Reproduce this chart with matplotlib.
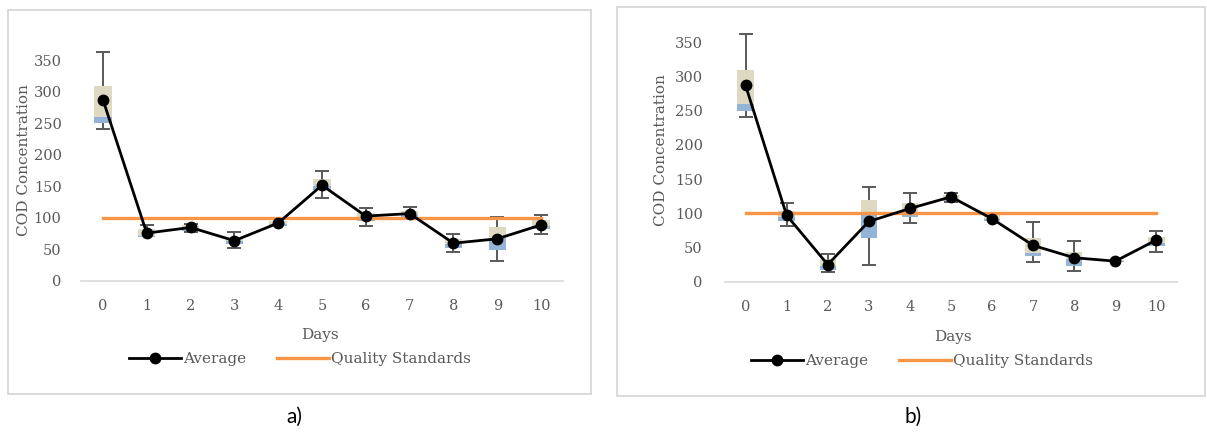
import numpy as np
import matplotlib.pyplot as plt
from matplotlib.patches import Rectangle
from matplotlib.lines import Line2D

days = list(range(11))
quality_standard = 100
y_ticks = [0, 50, 100, 150, 200, 250, 300, 350]

# panel a) box statistics
a_min = [242, 70, 77, 52, 88, 132, 88, 102, 46, 31, 75]
a_q1 = [251, 70, 79, 58, 88, 145, 96, 102, 53, 49, 82]
a_med = [260, 72, 84, 63, 90, 151, 102, 105, 59, 68, 88]
a_q3 = [310, 82, 89, 68, 96, 162, 108, 111, 67, 85, 97]
a_max = [363, 89, 91, 77, 96, 174, 116, 117, 74, 102, 105]
a_avg = [288, 76, 85, 64, 92, 152, 103, 107, 60, 67, 89]

# panel b) box statistics
b_min = [241, 81, 14, 25, 86, 116, 88, 29, 16, 29, 44]
b_q1 = [250, 88, 17, 64, 94, 118, 88, 37, 23, 29, 52]
b_med = [259, 95, 23, 98, 100, 121, 92, 42, 33, 30, 57]
b_q3 = [310, 104, 33, 120, 115, 126, 98, 64, 44, 31, 66]
b_max = [362, 115, 41, 139, 130, 130, 98, 87, 59, 31, 74]
b_avg = [287, 97, 25, 88, 107, 124, 92, 53, 35, 30, 61]

W, H = 1207, 432
GREY = '#595959'


def fx(px):
    return px / W


def fy(py):
    return 1 - py / H


def draw_panel(ax, lo, q1, med, q3, hi, avg):
    x = np.array(days)
    lo, q1, med, q3, hi = map(np.array, (lo, q1, med, q3, hi))
    ax.bar(x, med - q1, bottom=q1, width=0.4, color='#95b3d7', zorder=2)
    ax.bar(x, q3 - med, bottom=med, width=0.4, color='#ddd9c3', zorder=2)
    ax.vlines(x, q3, hi, color=GREY, lw=1.4, zorder=3)
    ax.vlines(x, lo, q1, color=GREY, lw=1.4, zorder=3)
    up = hi > q3
    dn = lo < q1
    ax.plot(x[up], hi[up], ls='none', marker='_', ms=10, mew=1.4, color=GREY, zorder=3)
    ax.plot(x[dn], lo[dn], ls='none', marker='_', ms=10, mew=1.4, color=GREY, zorder=3)
    ax.plot(x, [quality_standard] * len(x), color='#f79646', lw=2.4, zorder=4)
    ax.plot(x, avg, color='black', lw=2, marker='o', ms=7.5, zorder=5)

    ax.set_xlim(-0.5, 10.5)
    ax.set_ylim(0, 400)
    ax.set_xticks(days)
    ax.set_yticks(y_ticks)
    for s in ['top', 'left', 'right']:
        ax.spines[s].set_visible(False)
    ax.spines['bottom'].set_color('#d9d9d9')
    ax.spines['bottom'].set_linewidth(1.2)
    ax.tick_params(length=0, colors=GREY, labelsize=10.5)
    ax.tick_params(axis='x', pad=13)
    ax.patch.set_alpha(0)


plt.rcParams['font.family'] = ['DejaVu Serif']
fig = plt.figure(figsize=(W / 100, H / 100), dpi=100)

# chart frames
for x0, y0, x1, y1 in [(8, 10, 591, 394), (617, 7, 1205, 396)]:
    fig.add_artist(Rectangle((fx(x0), fy(y1)), fx(x1 - x0), (y1 - y0) / H,
                             transform=fig.transFigure, fill=False,
                             ec='#d4d4d4', lw=1.2))

ax1 = fig.add_axes([fx(81), fy(281), fx(563 - 81), (281 - 29) / H])
draw_panel(ax1, a_min, a_q1, a_med, a_q3, a_max, a_avg)
ax1.tick_params(axis='y', pad=14)

ax2 = fig.add_axes([fx(725), fy(281.7), fx(1177 - 725), (281.7 - 8) / H])
draw_panel(ax2, b_min, b_q1, b_med, b_q3, b_max, b_avg)
ax2.tick_params(axis='y', pad=16)

# axis titles
fig.text(fx(24.5), fy(160), 'COD Concentration', rotation=90, ha='center',
         va='center', fontsize=11, color=GREY)
fig.text(fx(661), fy(150), 'COD Concentration', rotation=90, ha='center',
         va='center', fontsize=11, color=GREY)
fig.text(fx(320), fy(335), 'Days', ha='center', va='center', fontsize=11, color=GREY)
fig.text(fx(953), fy(337), 'Days', ha='center', va='center', fontsize=11, color=GREY)

handles = [Line2D([], [], color='black', lw=2, marker='o', ms=7.5),
           Line2D([], [], color='#f79646', lw=2.4)]
names = ['Average', 'Quality Standards']
for cx, cy in [(300, 359), (922, 361)]:
    fig.legend(handles, names, loc='center', bbox_to_anchor=(fx(cx), fy(cy)),
               ncol=2, frameon=False, fontsize=11, handlelength=3.4,
               handletextpad=0.15, columnspacing=2.0, labelcolor=GREY)

fig.text(fx(294), fy(417), 'a)', ha='center', va='center', fontsize=15,
         family='Lato', color='black')
fig.text(fx(913), fy(417), 'b)', ha='center', va='center', fontsize=15,
         family='Lato', color='black')

fig.savefig('out.png', dpi=100)
